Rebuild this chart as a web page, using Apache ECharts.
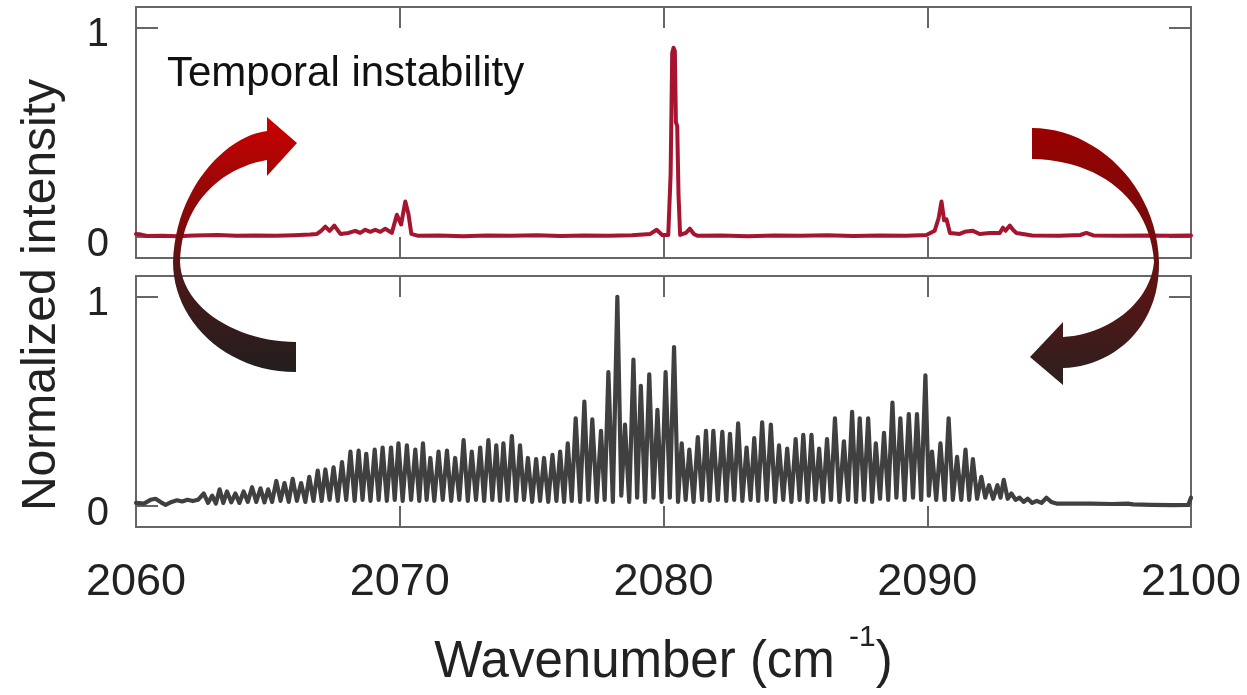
<!DOCTYPE html>
<html><head><meta charset="utf-8">
<script src="https://cdn.jsdelivr.net/npm/echarts@6/dist/echarts.min.js"></script>
<style>html,body{margin:0;padding:0;background:#fff;}#c{width:1247px;height:695px;}</style>
</head><body><div id="c"></div>
<script>
// ---- data ----
const xTickValues = [2060, 2070, 2080, 2090, 2100];
const yTickValues = [0, 1];

// Top panel (red): temporally unstable spectrum
const redX = [2060.00,2060.20,2060.42,2061.00,2061.60,2062.20,2063.10,2063.80,2064.50,2065.30,2066.00,2066.60,2066.86,2067.02,2067.18,2067.34,2067.52,2067.75,2068.06,2068.31,2068.50,2068.69,2068.88,2069.07,2069.26,2069.45,2069.70,2069.89,2070.05,2070.21,2070.33,2070.44,2070.70,2071.50,2072.40,2073.30,2074.20,2075.20,2076.10,2077.00,2077.90,2078.80,2079.50,2079.74,2079.95,2080.18,2080.27,2080.33,2080.38,2080.43,2080.47,2080.52,2080.57,2080.63,2080.85,2081.00,2081.15,2081.30,2082.20,2083.20,2084.20,2085.20,2086.20,2087.20,2088.20,2089.20,2089.97,2090.28,2090.43,2090.54,2090.64,2090.73,2090.86,2091.23,2091.42,2091.73,2091.99,2092.37,2092.75,2092.87,2092.97,2093.13,2093.25,2093.38,2093.98,2095.00,2095.80,2096.03,2096.30,2097.30,2098.30,2099.20,2100.00];
const redY = [0.015,0.012,0.005,0.006,0.004,0.007,0.010,0.006,0.008,0.006,0.009,0.012,0.015,0.030,0.050,0.030,0.055,0.015,0.020,0.030,0.020,0.035,0.025,0.035,0.025,0.040,0.020,0.107,0.060,0.170,0.110,0.015,0.006,0.008,0.004,0.008,0.006,0.009,0.005,0.008,0.006,0.009,0.015,0.035,0.010,0.010,0.300,0.880,0.905,0.890,0.550,0.530,0.200,0.010,0.020,0.040,0.015,0.006,0.007,0.004,0.008,0.006,0.009,0.005,0.008,0.006,0.010,0.030,0.090,0.170,0.080,0.085,0.020,0.015,0.025,0.030,0.015,0.020,0.020,0.045,0.030,0.055,0.035,0.020,0.008,0.006,0.010,0.020,0.008,0.006,0.008,0.006,0.008];

// Bottom panel (gray): comb spectrum
const grayX = [
2060.00,2060.30,2060.55,2060.74,2060.95,2061.12,2061.35,2061.55,2061.75,2061.95,2062.15,2062.35,
2062.57,2062.73,2062.89,2063.03,2063.17,2063.31,2063.45,2063.61,2063.77,2063.92,
2064.08,2064.24,2064.40,2064.56,2064.72,2064.87,2065.01,2065.16,2065.32,2065.48,
2065.63,2065.79,2065.94,2066.10,2066.26,2066.42,2066.57,2066.73,2066.89,2067.04,
2067.18,2067.34,2067.49,2067.65,2067.81,2067.97,2068.13,2068.29,2068.44,2068.59,
2068.73,2068.89,2069.05,2069.20,2069.35,2069.51,2069.67,2069.81,2069.95,2070.11,
2070.27,2070.43,2070.59,2070.74,2070.88,2071.02,2071.16,2071.31,2071.47,2071.63,
2071.79,2071.95,2072.10,2072.26,2072.42,2072.58,2072.73,2072.89,2073.05,2073.20,
2073.36,2073.51,2073.66,2073.80,2073.93,2074.09,2074.25,2074.41,2074.56,2074.71,
2074.86,2075.02,2075.17,2075.32,2075.47,2075.63,2075.79,2075.94,2076.08,2076.23,
2076.37,2076.52,2076.67,2076.84,2077.00,2077.15,2077.30,2077.47,2077.63,2077.77,
2077.91,2078.08,2078.25,2078.40,2078.54,2078.70,2078.86,2079.00,2079.14,2079.30,
2079.46,2079.62,2079.77,2079.93,2080.08,2080.24,2080.40,2080.55,2080.69,2080.84,
2080.98,2081.14,2081.30,2081.46,2081.61,2081.75,2081.89,2082.06,2082.23,2082.38,
2082.52,2082.68,2082.83,2082.99,2083.15,2083.30,2083.44,2083.59,2083.74,2083.91,
2084.07,2084.23,2084.38,2084.54,2084.69,2084.85,2085.01,2085.16,2085.30,2085.46,
2085.61,2085.76,2085.90,2086.05,2086.20,2086.35,2086.50,2086.67,2086.84,2087.00,
2087.15,2087.30,2087.44,2087.60,2087.76,2087.91,2088.05,2088.21,2088.36,2088.52,
2088.68,2088.83,2088.98,2089.14,2089.30,2089.46,2089.61,2089.77,2089.93,2090.06,
2090.18,2090.34,2090.50,2090.66,2090.81,2090.97,2091.13,2091.29,2091.45,2091.59,
2091.73,2091.89,2092.05,2092.20,2092.34,2092.50,2092.66,2092.78,2092.90,2093.05,
2093.19,2093.35,2093.50,2093.66,2093.81,2093.98,2094.15,2094.33,2094.52,2094.70,
2094.90,2095.50,2096.20,2097.00,2097.60,2097.80,2098.50,2099.30,2099.90,2100.00];
const grayY = [
0.015,0.012,0.030,0.035,0.018,0.006,0.020,0.028,0.022,0.030,0.024,0.030,
0.06,0.015,0.05,0.012,0.08,0.015,0.07,0.018,0.06,0.015,
0.07,0.02,0.09,0.02,0.085,0.018,0.08,0.02,0.12,0.025,
0.11,0.02,0.13,0.025,0.11,0.02,0.14,0.025,0.17,0.025,
0.175,0.03,0.185,0.025,0.21,0.03,0.26,0.025,0.265,0.03,
0.25,0.025,0.27,0.03,0.28,0.025,0.28,0.03,0.30,0.025,
0.29,0.03,0.27,0.025,0.30,0.03,0.23,0.025,0.26,0.03,
0.265,0.025,0.23,0.03,0.315,0.025,0.26,0.03,0.28,0.025,
0.315,0.03,0.29,0.025,0.30,0.03,0.335,0.025,0.29,0.03,
0.23,0.02,0.225,0.025,0.23,0.02,0.245,0.025,0.26,0.02,
0.30,0.025,0.42,0.02,0.50,0.03,0.415,0.02,0.36,0.03,
0.64,0.02,1.0,0.05,0.39,0.02,0.70,0.04,0.575,0.02,
0.63,0.04,0.46,0.02,0.64,0.04,0.76,0.02,0.30,0.03,
0.27,0.02,0.33,0.03,0.36,0.025,0.36,0.03,0.355,0.025,
0.345,0.03,0.395,0.025,0.28,0.03,0.325,0.025,0.40,0.03,
0.39,0.02,0.29,0.03,0.275,0.02,0.32,0.03,0.34,0.02,
0.34,0.03,0.275,0.02,0.32,0.03,0.42,0.02,0.31,0.03,
0.45,0.02,0.42,0.03,0.42,0.02,0.30,0.035,0.35,0.03,
0.495,0.04,0.42,0.03,0.44,0.04,0.44,0.03,0.625,0.05,
0.26,0.03,0.30,0.03,0.42,0.03,0.235,0.03,0.27,0.03,
0.225,0.035,0.14,0.04,0.10,0.035,0.10,0.04,0.125,0.035,
0.06,0.03,0.04,0.02,0.035,0.015,0.025,0.015,0.04,0.02,
0.012,0.012,0.012,0.010,0.012,0.008,0.006,0.005,0.006,0.04];

const FONT = '"Liberation Sans", Arial, sans-serif';
const FRAME = '#666';

function zip(xs, ys) { return xs.map((x, i) => [x, ys[i]]); }

function xAxis(gridIndex, position, showLabel, extra) {
  return Object.assign({
    type: 'value', gridIndex, position, min: xTickValues[0], max: xTickValues[xTickValues.length - 1], interval: 10,
    axisLine: { show: true, onZero: false, lineStyle: { color: FRAME, width: 2 } },
    axisTick: { show: true, inside: true, length: 21, lineStyle: { color: FRAME, width: 2 } },
    axisLabel: { show: showLabel, margin: 33, fontSize: 45, color: '#222', fontFamily: FONT,
                 formatter: v => String(v) },
    splitLine: { show: false }
  }, extra || {});
}
function yAxis(gridIndex, position, showLabel) {
  return {
    type: 'value', gridIndex, position, min: -0.1, max: 1.1,
    axisLine: { show: true, onZero: false, lineStyle: { color: FRAME, width: 2 } },
    axisTick: { show: true, inside: true, length: 22, customValues: yTickValues, lineStyle: { color: FRAME, width: 2 } },
    axisLabel: { show: showLabel, customValues: yTickValues, margin: 27, fontSize: 40, color: '#222', fontFamily: FONT,
                 verticalAlign: 'top', lineHeight: 15 },
    splitLine: { show: false }
  };
}

// ---- curved arrow decorations ----
function bez(p0, p1, p2, p3, n) {
  const out = [];
  for (let i = 0; i <= n; i++) {
    const t = i / n, u = 1 - t;
    out.push([
      u*u*u*p0[0] + 3*u*u*t*p1[0] + 3*u*t*t*p2[0] + t*t*t*p3[0],
      u*u*u*p0[1] + 3*u*u*t*p1[1] + 3*u*t*t*p2[1] + t*t*t*p3[1]
    ]);
  }
  return out;
}
const leftArrowPts = [].concat(
  [[297,143],[267,117],[267,131]],
  bez([267,131],[225,136],[175,190],[173,262],24),
  bez([173,262],[173,320],[225,372],[296,372],24),
  [[296,342]],
  bez([296,342],[240,342],[182,310],[180,262],24),
  bez([180,262],[181,205],[220,168],[267,160],24),
  [[267,176]]
);
const rightArrowPts = [].concat(
  bez([1032,128],[1095,128],[1157,185],[1159,262],24),
  bez([1159,262],[1160,330],[1110,367],[1063,368],24),
  [[1063,385],[1030,357],[1063,322]],
  bez([1063,337],[1105,335],[1150,305],[1154,262],24),
  bez([1154,262],[1150,200],[1100,160],[1032,159],24)
);

const chart = echarts.init(document.getElementById('c'), null, { renderer: 'canvas' });
chart.setOption({
  animation: false,
  backgroundColor: '#fff',
  grid: [
    { left: 136, right: 56, top: 7, height: 251, outerBoundsMode: 'none', containLabel: false },
    { left: 136, right: 56, top: 276, height: 251, outerBoundsMode: 'none', containLabel: false }
  ],
  xAxis: [
    xAxis(0, 'bottom', false),
    xAxis(0, 'top', false),
    xAxis(1, 'bottom', true, {
      name: 'Wavenumber (cm {sup|-1})',
      nameLocation: 'middle',
      nameGap: 96,
      nameTextStyle: {
        fontSize: 51, color: '#222', fontFamily: FONT, lineHeight: 80,
        rich: { sup: { fontSize: 30, lineHeight: 30, verticalAlign: 'top', color: '#222', fontFamily: FONT } }
      }
    }),
    xAxis(1, 'top', false)
  ],
  yAxis: [
    yAxis(0, 'left', true),
    yAxis(0, 'right', false),
    yAxis(1, 'left', true),
    yAxis(1, 'right', false)
  ],
  series: [
    {
      type: 'line', xAxisIndex: 0, yAxisIndex: 0, data: zip(redX, redY),
      showSymbol: false, symbol: 'none',
      lineStyle: { color: '#a6142f', width: 4, join: 'round', cap: 'round' }
    },
    {
      type: 'line', xAxisIndex: 2, yAxisIndex: 2, data: zip(grayX, grayY),
      showSymbol: false, symbol: 'none',
      lineStyle: { color: '#404040', width: 4.2, join: 'round', cap: 'round' }
    }
  ],
  graphic: [
    {
      type: 'text', x: 42, y: 295, rotation: Math.PI / 2, z: 20,
      style: { text: 'Normalized intensity', fontSize: 48, fontFamily: FONT, fill: '#222',
               align: 'center', verticalAlign: 'middle', textAlign: 'center', textVerticalAlign: 'middle' }
    },
    {
      type: 'text', x: 167, y: 74, z: 20,
      style: { text: 'Temporal instability', fontSize: 42, fontFamily: FONT, fill: '#111',
               align: 'left', verticalAlign: 'middle', textAlign: 'left', textVerticalAlign: 'middle' }
    },
    {
      type: 'polygon', z: 30,
      shape: { points: leftArrowPts },
      style: {
        fill: new echarts.graphic.LinearGradient(0, 0, 0, 1, [
          { offset: 0, color: '#cc0000' },
          { offset: 0.45, color: '#7a0c0c' },
          { offset: 0.62, color: '#4a1818' },
          { offset: 1, color: '#221e1e' }
        ])
      }
    },
    {
      type: 'polygon', z: 30,
      shape: { points: rightArrowPts },
      style: {
        fill: new echarts.graphic.LinearGradient(0, 0, 0, 1, [
          { offset: 0, color: '#9c0000' },
          { offset: 0.5, color: '#6a1010' },
          { offset: 1, color: '#2a2020' }
        ])
      }
    }
  ]
});
</script>
</body></html>
